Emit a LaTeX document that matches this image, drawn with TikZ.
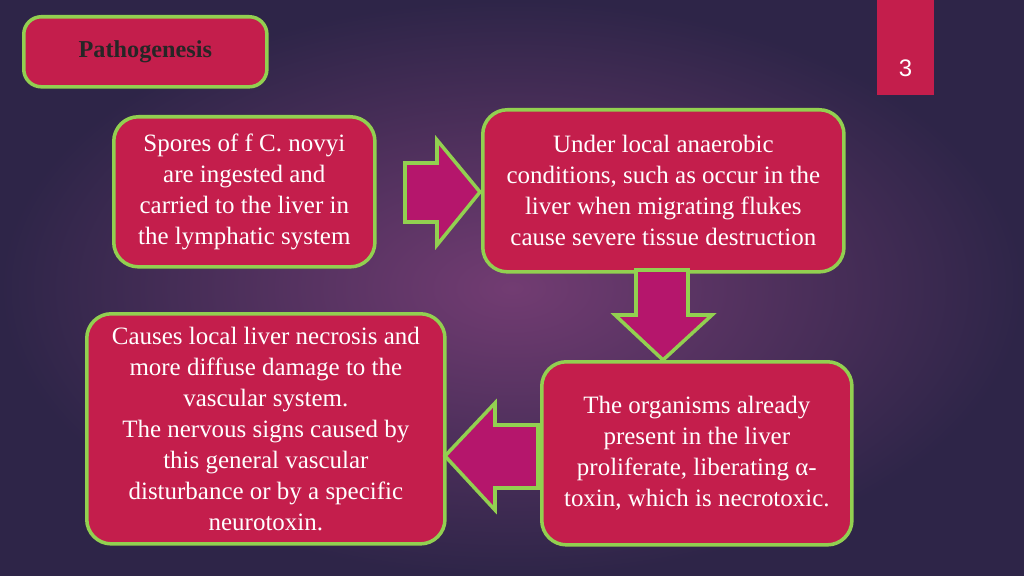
\documentclass[tikz,border=0pt]{standalone}
\usepackage{fontspec}
\setmainfont{Liberation Serif}
\setsansfont{Liberation Sans}
\usetikzlibrary{positioning}
\definecolor{boxred}{HTML}{C41E4C}
\definecolor{edgegreen}{HTML}{92D050}
\definecolor{arrowpink}{HTML}{B5166C}
\definecolor{bgdark}{HTML}{2E2548}
\definecolor{bglight}{HTML}{723C72}
\begin{document}
\begin{tikzpicture}[x=0.01cm,y=-0.01cm]
    % Define basic node style
    \tikzset{
        box/.style={
            rectangle,
            rounded corners=7pt,
            draw=edgegreen,
            line width=1pt,
            fill=boxred,
            text=white,
            align=center,
            font=\fontsize{7.1}{8.8}\selectfont
        },
        blockarrow/.style={
            draw=edgegreen,
            line width=1pt,
            fill=arrowpink
        }
    }
    
    % Background
    \shade[inner color=bglight, outer color=bgdark] (0,0) rectangle (1024,576);
    \useasboundingbox (0,0) rectangle (1024,576);
    
    % Title and page number
    \node[box, rounded corners=5pt, minimum width=2.43cm, minimum height=0.7cm, font=\fontsize{6.9}{7}\selectfont\bfseries, text=black!85, anchor=north west] (title) at (22,15) {\raisebox{1.5pt}{Pathogenesis}};
    \fill[boxred] (877,0) rectangle (934,95);
    \node[text=white, font=\sffamily\fontsize{6.8}{8}\selectfont] (page) at (905.5,68) {3};
    
    % Text boxes
    \node[box, minimum width=2.61cm, minimum height=1.5cm, anchor=north west] (spores) at (112,115)
        {Spores of f C. novyi\\are ingested and\\carried to the liver in\\the lymphatic system};
    \node[box, minimum width=3.61cm, minimum height=1.62cm, anchor=north west] (anaerobic) at (481,108)
        {Under local anaerobic\\conditions, such as occur in the\\liver when migrating flukes\\cause severe tissue destruction};
    \node[box, minimum width=3.1cm, minimum height=1.83cm, anchor=north west] (organisms) at (540,360)
        {The organisms already\\present in the liver\\proliferate, liberating α-\\toxin, which is necrotoxic.};
    \node[box, minimum width=3.58cm, minimum height=2.3cm, anchor=north west] (necrosis) at (85,312)
        {Causes local liver necrosis and\\more diffuse damage to the\\vascular system.\\The nervous signs caused by\\this general vascular\\disturbance or by a specific\\neurotoxin.};
    
    % Block arrows
    \draw[blockarrow] (405,163) -- (437,163) -- (437,140) -- (480,192) -- (437,245) -- (437,222) -- (405,222) -- cycle;
    \draw[blockarrow] (636,270) -- (688,270) -- (688,315) -- (712,315) -- (663,360) -- (615,315) -- (636,315) -- cycle;
    \draw[blockarrow] (538,425) -- (495,425) -- (495,403) -- (445,456) -- (495,510) -- (495,488) -- (538,488) -- cycle;
\end{tikzpicture}
\end{document}
